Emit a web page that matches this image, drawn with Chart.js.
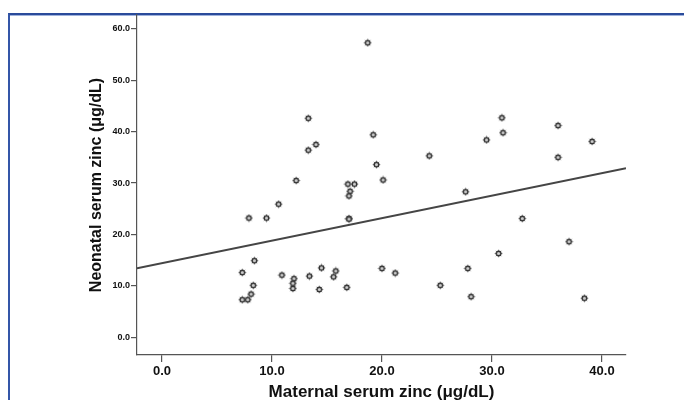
<!DOCTYPE html>
<html>
<head>
<meta charset="utf-8">
<script src="https://cdn.jsdelivr.net/npm/chart.js@4.4.0/dist/chart.umd.min.js"></script>
<style>
  html, body { margin: 0; padding: 0; background: #fff; }
  #wrap { position: relative; width: 684px; height: 400px; overflow: hidden; }
  #frame {
    position: absolute; left: 8px; top: 13px; width: 700px; height: 420px;
    border-left: 2px solid #3456a8; border-top: 2px solid #2a4b9b;
    box-shadow: inset 0 1px 0 #9fb2dc;
  }
  #chart { position: absolute; left: 0; top: 0; }
</style>
</head>
<body>
<div id="wrap">
  <div id="frame"></div>
  <canvas id="chart" width="684" height="400"></canvas>
</div>
<script>
// values
const maternalZinc = [7.3, 7.8, 8.1, 8.3, 7.3, 8.4, 7.9, 9.5, 10.6, 10.9,
  12.0, 11.9, 11.9, 13.4, 14.5, 14.3, 15.8, 15.6, 16.8, 20.0,
  21.2, 25.3, 12.2, 16.9, 17.5, 17.1, 17.0, 20.1, 17.0, 17.0,
  18.7, 13.3, 19.2, 14.0, 13.3, 24.3, 19.5, 30.9, 31.0, 29.5,
  36.0, 39.1, 36.0, 27.6, 32.75, 37.0, 30.6, 27.8, 28.1, 38.4];
const neonatalZinc = [7.3, 7.3, 8.4, 10.1, 12.6, 14.9, 23.2, 23.2, 25.9, 12.1,
  11.4, 10.5, 9.5, 11.9, 13.5, 9.3, 12.9, 11.75, 9.7, 13.4,
  12.5, 10.1, 30.5, 29.8, 29.8, 28.4, 27.5, 30.6, 23.1, 23.0,
  57.3, 42.6, 39.4, 37.5, 36.4, 35.3, 33.6, 42.7, 39.8, 38.4,
  41.2, 38.1, 35.0, 28.3, 23.1, 18.6, 16.3, 13.4, 7.9, 7.6];

// fit line end points, read at the axis edges
const fitX = [-2.27, 42.18];
const fitY = [13.4, 32.9];

const xTicks = [0, 10, 20, 30, 40];
const yTicks = [0, 10, 20, 30, 40, 50, 60];

// little spiky SPSS-like marker
function makeMarker() {
  const c = document.createElement('canvas');
  c.width = 9; c.height = 9;
  const g = c.getContext('2d');
  g.translate(4.5, 4.5);
  g.strokeStyle = '#7a7a7a';
  g.lineWidth = 1;
  for (let i = 0; i < 8; i++) {
    const a = i * Math.PI / 4;
    g.beginPath();
    g.moveTo(Math.cos(a) * 2, Math.sin(a) * 2);
    g.lineTo(Math.cos(a) * 3.8, Math.sin(a) * 3.8);
    g.stroke();
  }
  g.beginPath();
  g.arc(0, 0, 2.3, 0, Math.PI * 2);
  g.fillStyle = '#cfcfcf';
  g.fill();
  g.strokeStyle = '#333';
  g.lineWidth = 1.4;
  g.stroke();
  return c;
}

const points = maternalZinc.map((x, i) => ({ x: x, y: neonatalZinc[i] }));
const fitPoints = fitX.map((x, i) => ({ x: x, y: fitY[i] }));

const fontFam = "'Liberation Sans', Arial, sans-serif";

new Chart(document.getElementById('chart'), {
  type: 'scatter',
  data: {
    datasets: [
      {
        type: 'line',
        data: fitPoints,
        borderColor: '#454545',
        borderWidth: 2,
        pointRadius: 0,
        fill: false
      },
      {
        data: points,
        pointStyle: makeMarker(),
        pointRadius: 4
      }
    ]
  },
  options: {
    responsive: false,
    animation: false,
    layout: { padding: { left: 0, right: 58, top: 15, bottom: 0 } },
    plugins: { legend: { display: false }, tooltip: { enabled: false } },
    scales: {
      x: {
        type: 'linear',
        min: -2.27,
        max: 42.18,
        afterFit: s => { s.height = 45; },
        afterBuildTicks: s => { s.ticks = xTicks.map(v => ({ value: v })); },
        border: { display: true, color: '#555', width: 1.2 },
        grid: { display: true, drawOnChartArea: false, drawTicks: true, tickLength: 7, color: '#555', lineWidth: 1.2 },
        ticks: {
          padding: 2,
          color: '#111',
          font: { family: fontFam, size: 13, weight: 'bold' },
          maxRotation: 0,
          callback: v => v.toFixed(1)
        },
        title: {
          display: true,
          text: 'Maternal serum zinc (μg/dL)',
          color: '#111',
          font: { family: fontFam, size: 17, weight: 'bold', lineHeight: 1 },
          padding: { top: 0, bottom: -1 }
        }
      },
      y: {
        type: 'linear',
        min: -3.45,
        max: 62.7,
        afterFit: s => { s.width = 137; },
        afterBuildTicks: s => { s.ticks = yTicks.map(v => ({ value: v })); },
        border: { display: true, color: '#555', width: 1.2 },
        grid: { display: true, drawOnChartArea: false, drawTicks: true, tickLength: 6, color: '#555', lineWidth: 1.2 },
        ticks: {
          padding: 1,
          color: '#111',
          font: { family: fontFam, size: 9, weight: 'bold' },
          callback: v => v.toFixed(1)
        },
        title: {
          display: true,
          text: 'Neonatal serum zinc (μg/dL)',
          color: '#111',
          font: { family: fontFam, size: 16, weight: 'bold', lineHeight: 1 },
          padding: { top: 89, bottom: 0 }
        }
      }
    }
  }
});
</script>
</body>
</html>
